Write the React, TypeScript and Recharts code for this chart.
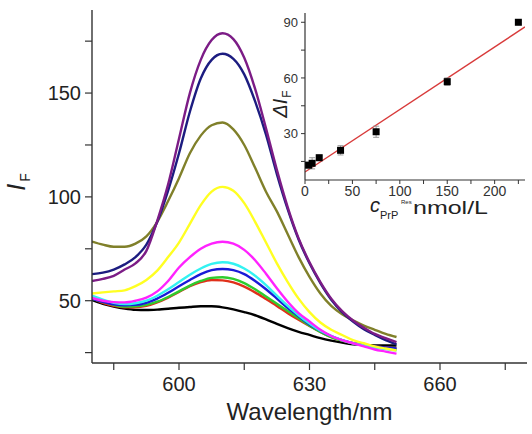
import React from 'react';
import {
  LineChart,
  Line,
  ComposedChart,
  Scatter,
  ErrorBar,
  XAxis,
  YAxis,
  Label,
} from 'recharts';

// emission spectra
const wavelengths = [
  580, 582.5, 585, 587.5, 590, 592.5, 595, 597.5, 600, 602.5, 605, 607.5, 610, 612.5, 615,
  617.5, 620, 622.5, 625, 627.5, 630, 632.5, 635, 637.5, 640, 642.5, 645, 647.5, 650,
];

const blackCurve = [
  50.3, 48.5, 47.2, 46.2, 45.6, 45.5, 45.7, 46.1, 46.6, 47, 47.3, 47.3, 46.8, 45.8, 44.5,
  43, 41, 38.8, 36.8, 35, 33.5, 32, 30.8, 29.8, 29, 28.7, 28.5, 28.4, 28.4,
];
const redCurve = [
  51.2, 49, 47.5, 46.8, 46.8, 47.5, 49.2, 51.5, 54.2, 57, 59, 60, 59.8, 58.8, 56.8,
  54, 50.8, 47.5, 44, 40.8, 37.8, 35, 32.5, 30.8, 29.5, 28.7, 28, 27.5, 27,
];
const greenCurve = [
  51, 49.5, 48, 47.2, 47.3, 48, 49.5, 51.8, 54.5, 57.3, 59.5, 61, 61.3, 60.5, 58.5,
  55.5, 52, 48.5, 45, 41.5, 38, 35, 32.5, 30.8, 29.5, 28.5, 27.5, 27, 26.5,
];
const blueCurve = [
  51, 49.5, 48.3, 47.8, 48, 49, 51, 53.8, 57, 60, 62.8, 64.7, 65.3, 64.7, 62.8,
  59.5, 55.5, 51, 46.5, 42.5, 38.5, 35.5, 33, 31, 29.5, 28.7, 28, 27.5, 27,
];
const cyanCurve = [
  52.4, 50.5, 49, 48.4, 48.8, 50, 52.4, 55.5, 59, 62.5, 65.5, 67.7, 68.5, 67.8, 65.5,
  62, 57.5, 52.5, 47.5, 43, 39, 35.5, 33, 31, 29.5, 28.5, 27.5, 26.7, 26,
];
const magentaCurve = [
  51.3, 50, 49.3, 49.2, 50, 51.5, 54.5, 59.5, 66, 71, 75, 77.5, 78.4, 77.5, 74.5,
  69.5, 63, 56, 49.5, 44, 40, 36, 33, 31, 29.5, 28, 26.5, 25.5, 24.5,
];
const yellowCurve = [
  53.5, 54, 54.5, 55, 57, 60, 64.5, 71, 78, 87, 96, 102.5, 104.8, 103, 97,
  88, 78, 68, 59, 51, 44.5, 39.5, 36, 33.5, 31, 29.5, 28, 27, 26,
];
const oliveCurve = [
  78.5, 77, 76, 76, 77.5, 81, 88, 98, 109, 121, 129.5, 134.5, 135.8, 132.5, 125,
  114, 102.5, 93, 82, 71, 61.5, 53.5, 47.5, 43.5, 40.5, 38, 36, 34, 32.5,
];
const navyCurve = [
  62.8, 63.5, 65, 67.5, 71, 77, 88, 103, 121, 141, 157, 166, 168.9, 166.5, 159,
  146, 130, 111, 94, 79.5, 68, 58.5, 50.5, 44.5, 40, 36.3, 33.5, 31, 29,
];
const purpleCurve = [
  59.5, 60.5, 62, 65, 68, 74, 88.5, 106, 128, 150, 166, 175.5, 178.8, 176, 167,
  152, 133, 113, 95, 80, 68.5, 59, 51, 45, 40.5, 37, 34, 32, 30,
];

const spectra = wavelengths.map((wl, i) => ({
  wl,
  black: blackCurve[i],
  red: redCurve[i],
  green: greenCurve[i],
  blue: blueCurve[i],
  cyan: cyanCurve[i],
  magenta: magentaCurve[i],
  yellow: yellowCurve[i],
  olive: oliveCurve[i],
  navy: navyCurve[i],
  purple: purpleCurve[i],
}));

const mainXTicks = [585, 600, 615, 630, 645, 660, 675];
const mainYTicks = [25, 50, 75, 100, 125, 150, 175];

// inset: fluorescence change vs concentration
const concentrations = [3.8, 7.5, 15, 37.5, 75, 150, 225];
const deltaF = [13, 14, 17, 21, 31, 58, 90];
const deltaErr = [1.5, 3, 1.5, 2.5, 3, 2, 1];
const fitX = [0, 232];
const fitY = [9.3, 87.5];

const insetPoints = concentrations.map((x, i) => ({ x, y: deltaF[i], err: deltaErr[i] }));
const fitLine = fitX.map((x, i) => ({ x, y: fitY[i] }));

const insetXTicks = [0, 25, 50, 75, 100, 125, 150, 175, 200, 225];
const insetYTicks = [15, 30, 45, 60, 75, 90];

const curves = [
  { key: 'black', color: '#000000' },
  { key: 'red', color: '#e0301a' },
  { key: 'green', color: '#2ecc2e' },
  { key: 'blue', color: '#1a1ad8' },
  { key: 'cyan', color: '#33f2f2' },
  { key: 'magenta', color: '#ff22ff' },
  { key: 'yellow', color: '#ffff22' },
  { key: 'olive', color: '#80802a' },
  { key: 'navy', color: '#1c1c80' },
  { key: 'purple', color: '#7c1c86' },
];

const FONT = '"Liberation Sans", Arial, Helvetica, sans-serif';
const AXIS = '#333';

const SquareDot = (props: any) => {
  const { cx, cy } = props;
  if (cx == null || cy == null) return null;
  return <rect x={cx - 3.5} y={cy - 3.5} width={7} height={7} fill="#000" />;
};

function Inset() {
  return (
    <div style={{ position: 'absolute', left: 250, top: 0 }}>
      <ComposedChart width={282} height={230} margin={{ top: 13, right: 7, bottom: 0, left: 0 }}>
        <XAxis
          dataKey="x"
          type="number"
          domain={[0, 232]}
          ticks={insetXTicks}
          tickFormatter={(v: number) => (v % 50 === 0 ? String(v) : '')}
          height={50}
          tickSize={4}
          tickMargin={2}
          axisLine={{ stroke: AXIS, strokeWidth: 1.2 }}
          tickLine={{ stroke: AXIS }}
          tick={{ fill: '#333', fontSize: 14, fontFamily: FONT }}
          allowDataOverflow
        >
          <Label
            content={(p: any) => {
              const vb = p.viewBox || { x: 55, y: 180 };
              const x0 = vb.x + 65;
              const yb = vb.y + 32;
              return (
                <g fontFamily={FONT} fill="#222">
                  <text x={x0} y={yb} fontSize={20} fontStyle="italic">c</text>
                  <text x={x0 + 10} y={yb + 7} fontSize={11}>PrP</text>
                  <text x={x0 + 31} y={yb - 8} fontSize={6}>Res</text>
                  <text x={x0 + 43} y={yb + 2} fontSize={18} textLength={75} lengthAdjust="spacingAndGlyphs">nmol/L</text>
                </g>
              );
            }}
          />
        </XAxis>
        <XAxis
          xAxisId="top"
          orientation="top"
          type="number"
          domain={[0, 232]}
          height={0}
          tick={false}
          tickLine={false}
          axisLine={{ stroke: '#c8c8c8', strokeWidth: 1.5 }}
        />
        <YAxis
          type="number"
          domain={[5, 95]}
          ticks={insetYTicks}
          tickFormatter={(v: number) => (v % 30 === 0 ? String(v) : '')}
          width={55}
          tickSize={4}
          tickMargin={3}
          axisLine={{ stroke: AXIS, strokeWidth: 1.2 }}
          tickLine={{ stroke: AXIS }}
          tick={{ fill: '#333', fontSize: 13, fontFamily: FONT }}
          allowDataOverflow
        >
          <Label
            content={() => {
              const cx = 37;
              const cy = 104;
              return (
                <text
                  x={cx}
                  y={cy}
                  transform={`rotate(-90 ${cx} ${cy})`}
                  textAnchor="middle"
                  fontFamily={FONT}
                  fill="#222"
                >
                  <tspan fontSize={20} fontStyle="italic">ΔI</tspan>
                  <tspan fontSize={12} dy={4} dx={1}>F</tspan>
                </text>
              );
            }}
          />
        </YAxis>
        <YAxis
          yAxisId="right"
          orientation="right"
          type="number"
          domain={[5, 95]}
          width={0}
          tick={false}
          tickLine={false}
          axisLine={{ stroke: '#c8c8c8', strokeWidth: 1.5 }}
        />
        <Line
          data={fitLine}
          dataKey="y"
          type="linear"
          stroke="#d83a3a"
          strokeWidth={1.4}
          dot={false}
          isAnimationActive={false}
        />
        <Scatter data={insetPoints} dataKey="y" shape={<SquareDot />} isAnimationActive={false}>
          <ErrorBar dataKey="err" direction="y" width={3} stroke="#999" strokeWidth={1} />
        </Scatter>
      </ComposedChart>
    </div>
  );
}

export default function App() {
  return (
    <div style={{ position: 'absolute', left: 0, top: 0, width: 532, height: 434, background: '#fff' }}>
      <LineChart width={532} height={434} data={spectra} margin={{ top: 10, right: 5, bottom: 31, left: 0 }}>
        <XAxis
          dataKey="wl"
          type="number"
          domain={[580, 680]}
          ticks={mainXTicks}
          tickFormatter={(v: number) => (v % 30 === 0 ? String(v) : '')}
          height={40}
          tickSize={7}
          tickMargin={7}
          axisLine={{ stroke: AXIS, strokeWidth: 1.4 }}
          tickLine={{ stroke: AXIS, strokeWidth: 1.2 }}
          tick={{ fill: '#222', fontSize: 20, fontFamily: FONT }}
          allowDataOverflow
        >
          <Label
            content={(p: any) => {
              const vb = p.viewBox || { x: 92, y: 363, width: 435 };
              return (
                <text
                  x={vb.x + vb.width / 2}
                  y={420}
                  textAnchor="middle"
                  fontSize={24}
                  fontFamily={FONT}
                  fill="#222"
                >
                  Wavelength/nm
                </text>
              );
            }}
          />
        </XAxis>
        <XAxis
          xAxisId="top"
          orientation="top"
          type="number"
          domain={[580, 680]}
          height={0}
          tick={false}
          tickLine={false}
          axisLine={{ stroke: '#d0d0d0', strokeWidth: 1.5 }}
        />
        <YAxis
          type="number"
          domain={[20, 190]}
          ticks={mainYTicks}
          tickFormatter={(v: number) => (v % 50 === 0 ? String(v) : '')}
          width={92}
          tickSize={7}
          tickMargin={4}
          axisLine={{ stroke: AXIS, strokeWidth: 1.4 }}
          tickLine={{ stroke: AXIS, strokeWidth: 1.2 }}
          tick={{ fill: '#222', fontSize: 20, fontFamily: FONT }}
          allowDataOverflow
        >
          <Label
            content={() => {
              const cx = 25;
              const cy = 182;
              return (
                <text
                  x={cx}
                  y={cy}
                  transform={`rotate(-90 ${cx} ${cy})`}
                  textAnchor="middle"
                  fontFamily={FONT}
                  fill="#222"
                >
                  <tspan fontSize={25} fontStyle="italic">I</tspan>
                  <tspan fontSize={14} dy={5} dx={2}>F</tspan>
                </text>
              );
            }}
          />
        </YAxis>
        {curves.map((c) => (
          <Line
            key={c.key}
            dataKey={c.key}
            type="monotone"
            stroke={c.color}
            strokeWidth={2.4}
            dot={false}
            isAnimationActive={false}
          />
        ))}
      </LineChart>
      <Inset />
    </div>
  );
}
